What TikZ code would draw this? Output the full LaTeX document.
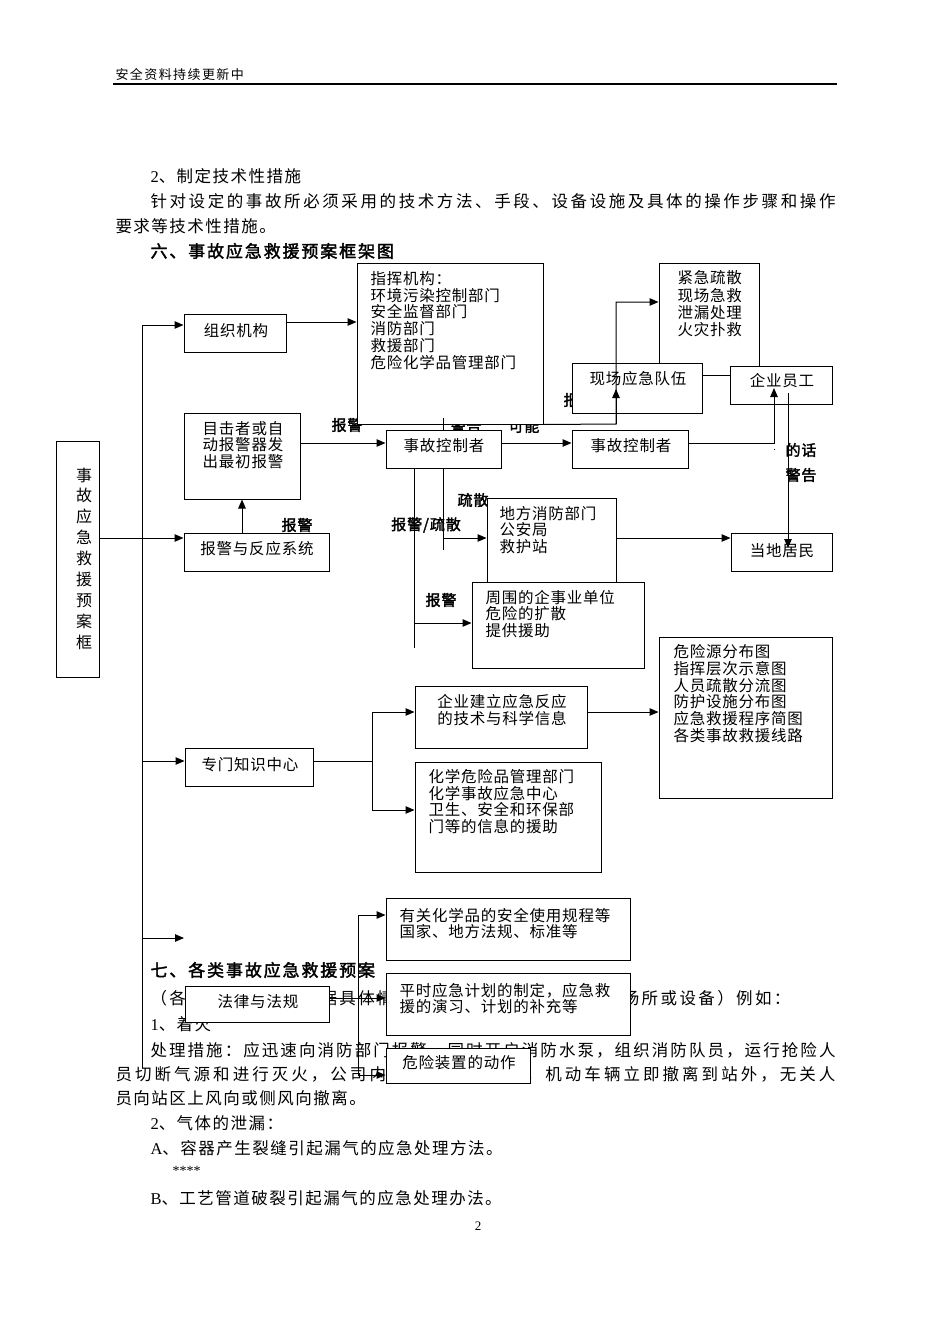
\documentclass[tikz,border=0pt]{standalone}
\usepackage{fontspec}
\setmainfont{Liberation Serif}
\newfontfamily\lat{Liberation Serif}
\newfontfamily\cjk[LetterSpace=9]{Noto Sans CJK SC}
\newfontfamily\cjkh[LetterSpace=11]{Noto Sans CJK SC}
\newfontfamily\cjkd[LetterSpace=5]{Noto Sans CJK SC}
\newfontfamily\cjkb[FakeBold=2,LetterSpace=6]{Noto Sans CJK SC}
\newfontfamily\cjkhb[FakeBold=2,LetterSpace=11]{Noto Sans CJK SC}
\usetikzlibrary{arrows.meta}
\makeatletter
\newcommand\spreadline[2]{\hbox to #1{\@tfor\next:=#2\do{\next\hfil}\unskip}}
\makeatother
\begin{document}
\begin{tikzpicture}[x=1pt,y=-1pt,line width=1pt,
  box/.style={draw,fill=white,line width=1pt,inner sep=0pt},
  arr/.style={-{Triangle[length=9pt,width=7.5pt]},line width=1pt},
  pt/.style={anchor=west,inner sep=0pt,font=\cjk\fontsize{16.5}{20}\selectfont},
  hd/.style={anchor=west,inner sep=0pt,font=\cjkhb\fontsize{17}{20}\selectfont},
  dt/.style={inner sep=0pt,font=\cjkd\fontsize{15.5}{16.8}\selectfont,align=left},
  lb/.style={inner sep=0pt,font=\cjkb\fontsize{15}{18}\selectfont}]
\fill[white] (0,0) rectangle (950,1344);
\path[use as bounding box] (0,0) rectangle (950,1344);

% ---- page text ----
\node[anchor=west,inner sep=0pt,font=\cjkh\fontsize{13}{15}\selectfont] (hdr) at (115,74) {安全资料持续更新中};
\coordinate (rl) at (113,84);
\coordinate (rr) at (837,84);
\draw[line width=1.3pt] (rl) -- (rr);
\node[pt] (p1) at (150,176) {{\lat 2}、制定技术性措施};
\node[pt] (p2) at (150,201) {\spreadline{685pt}{针对设定的事故所必须采用的技术方法、手段、设备设施及具体的操作步骤和操作}};
\node[pt] (p3) at (115,226) {要求等技术性措施。};
\node[hd] (h6) at (150,251) {六、事故应急救援预案框架图};
\node[hd] (h7) at (150,970) {七、各类事故应急救援预案};
\node[pt] (p4) at (150,998) {\spreadline{640pt}{（各类事故预案应根据具体情况，针对易发生事故的重点场所或设备）例如：}};
\node[pt] (p5) at (150,1024) {{\lat 1}、着火};
\node[pt] (p6) at (150,1050) {\spreadline{685pt}{处理措施：应迅速向消防部门报警，同时开启消防水泵，组织消防队员，运行抢险人}};
\node[pt] (p7) at (115,1074) {\spreadline{720pt}{员切断气源和进行灭火，公司内值班员疏导车辆，机动车辆立即撤离到站外，无关人}};
\node[pt] (p8) at (115,1098) {员向站区上风向或侧风向撤离。};
\node[pt] (p9) at (150,1123) {{\lat 2}、气体的泄漏：};
\node[pt] (p10) at (150,1148) {{\lat A}、容器产生裂缝引起漏气的应急处理方法。};
\node[anchor=west,inner sep=0pt,font=\lat\fontsize{14}{16}\selectfont] (p11) at (172,1171) {****};
\node[pt] (p12) at (150,1198) {{\lat B}、工艺管道破裂引起漏气的应急处理办法。};
\node[inner sep=0pt,font=\lat\fontsize{13}{15}\selectfont] (pg) at (478,1226) {2};

% ---- labels lying under boxes ----
\node[lb] (l1) at (347,425) {报警};
\node[lb] (l2) at (466,426) {警告};
\node[lb] (l3) at (524,426) {可能};
\node[lb] (l4) at (579,400) {报警};
\node[lb] (l5) at (473,500) {疏散};

% ---- boxes ----
\node[box,minimum width=100pt,minimum height=112pt] (jinji) at (709,319) {};
\node[box,minimum width=129pt,minimum height=102pt] (difang) at (551.5,549) {};
\node[box,minimum width=43pt,minimum height=236pt] (kuang) at (77.5,559) {};
\node[box,minimum width=102pt,minimum height=38pt] (zuzhi) at (235,333) {};
\node[box,minimum width=186pt,minimum height=161pt] (zhihui) at (450,343.5) {};
\node[box,minimum width=116pt,minimum height=86pt] (mujizhe) at (242,456) {};
\node[box,minimum width=145pt,minimum height=38pt] (baojing) at (256.5,552) {};
\node[box,minimum width=115pt,minimum height=38pt] (ctrl1) at (443.5,449) {};
\node[box,minimum width=116pt,minimum height=38pt] (ctrl2) at (630,449) {};
\node[box,minimum width=130pt,minimum height=50pt] (xianchang) at (637,388) {};
\node[box,minimum width=102pt,minimum height=38pt] (yuangong) at (781,385) {};
\node[box,minimum width=172pt,minimum height=86pt] (zhouwei) at (558,625) {};
\node[box,minimum width=101pt,minimum height=38pt] (jumin) at (781.5,552) {};
\node[box,minimum width=128pt,minimum height=38pt] (zhuanmen) at (249,767) {};
\node[box,minimum width=172pt,minimum height=62pt] (qiye) at (501,717) {};
\node[box,minimum width=186pt,minimum height=110pt] (huaxue) at (508,817) {};
\node[box,minimum width=173pt,minimum height=161pt] (weixian) at (745.5,717.5) {};
\node[box,minimum width=244pt,minimum height=62pt] (youguan) at (508,929) {};
\node[box,minimum width=144pt,minimum height=36pt] (falv) at (257,1004) {};
\node[box,minimum width=244pt,minimum height=62pt] (pingshi) at (508,1004) {};
\node[box,minimum width=144pt,minimum height=35pt] (zhuangzhi) at (458,1065.5) {};

% ---- connectors ----
\coordinate (tt) at (142,325);
\coordinate (tb) at (142,1068);
\coordinate (t761) at (142,761);
\coordinate (t938) at (142,938);
\coordinate (free1) at (184,938);
\draw (tb) -- (tt);
\draw[arr] (tt) -- (zuzhi.west |- tt);
\draw[arr] (t761) -- (zhuanmen.west |- t761);
\draw[arr] (t938) -- (free1);
\draw[arr] (kuang.east |- 0,538) -- (baojing.west |- 0,538);
\draw[arr] (zuzhi.east |- 0,322) -- (zhihui.west |- 0,322);
\draw[arr] (mujizhe.south |- baojing.north) -- (mujizhe.south);
\draw[arr] (mujizhe.east |- 0,443) -- (ctrl1.west |- 0,443);
\draw[arr] (ctrl1.east |- 0,443) -- (ctrl2.west |- 0,443);
\coordinate (yg) at (774,388);
\coordinate (ygt) at (774,450);
\draw[arr] (ctrl2.east |- 0,443) -| (yg);
\draw (ygt) -- (yg |- ctrl2.east);
\coordinate (yg2) at (788,393);
\coordinate (jm) at (788,548);
\draw[arr] (yg2) -- (jm);
\coordinate (c616) at (616,424);
\coordinate (c616t) at (616,302);
\coordinate (xc) at (616,389);
\draw[arr] (zhihui.south east) -- (c616) -- (c616t) -- (jinji.west |- c616t);
\draw[arr] (c616) -- (xc);
\draw (xianchang.east |- 0,375) -- (yuangong.west |- 0,375);
\coordinate (v414) at (414,648);
\coordinate (v414a) at (414,623);
\draw (ctrl1.south -| v414) -- (v414);
\draw[arr] (v414a) -- (zhouwei.west |- v414a);
\coordinate (v443) at (443,550);
\coordinate (v443a) at (443,538);
\coordinate (v443t) at (443,418);
\draw (ctrl1.south -| v443) -- (v443);
\draw[arr] (v443a) -- (difang.west |- v443a);
\draw (v443t) -- (ctrl1.north -| v443t);
\draw[arr] (difang.east |- v443a) -- (jumin.west |- v443a);
\coordinate (s372) at (372,761);
\draw (zhuanmen.east |- s372) -- (s372);
\draw[arr] (s372) |- (qiye.west |- 0,712);
\draw[arr] (s372) |- (huaxue.west |- 0,810);
\draw[arr] (qiye.east |- 0,712) -- (weixian.west |- 0,712);
\coordinate (s358t) at (358,915);
\coordinate (s358b) at (358,1075);
\draw (s358t) -- (s358b);
\draw[arr] (s358t) -- (youguan.west |- s358t);
\draw[arr] (falv.east |- 0,998) -- (pingshi.west |- 0,998);
\draw[arr] (s358b) -- (zhuangzhi.west |- s358b);

% ---- box texts ----
\node[dt,align=center,font=\cjkd\fontsize{16}{20.9}\selectfont] (tkuang) at (84,558.5) {事\\故\\应\\急\\救\\援\\预\\案\\框};
\node[dt] (tzuzhi) at (236,331) {组织机构};
\node[dt,align=center] (tmuji) at (243,445) {目击者或自\\动报警器发\\出最初报警};
\node[dt] (tbaoj) at (257,549) {报警与反应系统};
\node[dt,anchor=west] (tzhihui) at (370,320.5) {指挥机构：\\环境污染控制部门\\安全监督部门\\消防部门\\救援部门\\危险化学品管理部门};
\node[dt] (tctrl1) at (444,446) {事故控制者};
\node[dt] (tctrl2) at (631,446) {事故控制者};
\node[dt,anchor=west,font=\cjkd\fontsize{15.5}{17.3}\selectfont] (tjinji) at (677,304) {紧急疏散\\现场急救\\泄漏处理\\火灾扑救};
\node[dt] (txian) at (638,379) {现场应急队伍};
\node[dt] (tyuan) at (782,381) {企业员工};
\node[dt,anchor=west] (tdifang) at (499,530) {地方消防部门\\公安局\\救护站};
\node[dt,anchor=west] (tzhou) at (485,614) {周围的企事业单位\\危险的扩散\\提供援助};
\node[dt] (tjumin) at (782,551) {当地居民};
\node[dt] (tzhuan) at (250,765) {专门知识中心};
\node[dt,align=center] (tqiye) at (502,710) {企业建立应急反应\\的技术与科学信息};
\node[dt,anchor=west] (thua) at (428,801.5) {化学危险品管理部门\\化学事故应急中心\\卫生、安全和环保部\\门等的信息的援助};
\node[dt,anchor=west] (twei) at (673,693.5) {危险源分布图\\指挥层次示意图\\人员疏散分流图\\防护设施分布图\\应急救援程序简图\\各类事故救援线路};
\node[dt,anchor=west] (tyou) at (399,923.5) {有关化学品的安全使用规程等\\国家、地方法规、标准等};
\node[dt] (tfalv) at (258,1002) {法律与法规};
\node[dt,anchor=west] (tping) at (399,998.5) {平时应急计划的制定，应急救\\援的演习、计划的补充等};
\node[dt] (tzz) at (459,1063) {危险装置的动作};

% ---- labels on top ----
\node[lb] (l6) at (297,525) {报警};
\node[lb] (l7) at (426,525) {报警/疏散};
\node[lb] (l8) at (441,600) {报警};
\node[lb] (l9) at (801,450) {的话};
\node[lb] (l10) at (801,475) {警告};
\end{tikzpicture}
\end{document}
